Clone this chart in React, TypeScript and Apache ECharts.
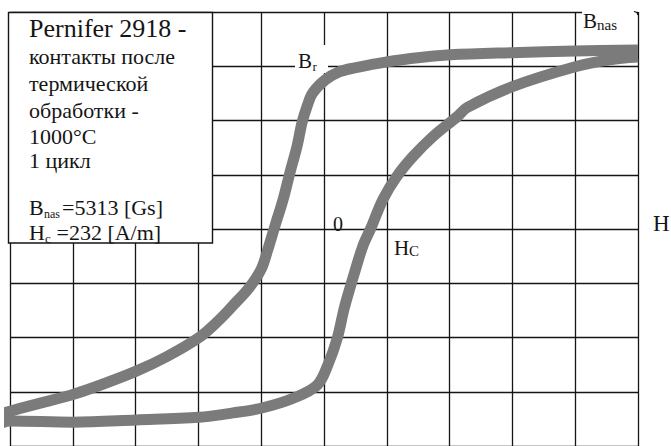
import React, { useEffect, useRef } from "react";
import * as echarts from "echarts";

// Hysteresis loop of Pernifer 2918, in grid units (H horizontal, B vertical)
// Descending branch, from positive saturation to negative saturation
const descendingH = [5.0, 4.0, 2.99, 2.01, 1.53, 1.0, 0.49, 0.25, 0.02, -0.18, -0.27, -0.35, -0.43, -0.54, -0.65, -0.78, -0.9, -1.0, -1.19, -1.45, -1.7, -1.99, -2.5, -2.99, -3.57, -4.0, -4.52, -5.0, -5.19];
const descendingB = [3.3, 3.28, 3.25, 3.21, 3.16, 3.08, 2.97, 2.9, 2.75, 2.51, 2.26, 1.96, 1.52, 1.05, 0.55, 0.06, -0.4, -0.74, -1.08, -1.41, -1.71, -2.0, -2.35, -2.62, -2.88, -3.05, -3.21, -3.36, -3.43];
// Ascending branch, from negative saturation back to positive saturation
const ascendingH = [-5.19, -5.0, -4.0, -2.99, -1.99, -1.45, -0.99, -0.49, -0.11, 0.06, 0.21, 0.32, 0.41, 0.49, 0.62, 0.74, 0.94, 1.16, 1.42, 1.74, 2.12, 2.28, 2.99, 4.0, 4.55, 5.0];
const ascendingB = [-3.6, -3.54, -3.56, -3.52, -3.47, -3.39, -3.3, -3.12, -2.88, -2.51, -2.02, -1.47, -1.1, -0.79, -0.31, 0, 0.55, 0.97, 1.34, 1.71, 2.07, 2.24, 2.62, 2.99, 3.12, 3.17];

// Grid extent in grid units
const hRange = [-5, 5];
const bRange = [-4, 4];

// Caption lines of the info box
const titleLine = "Pernifer 2918 -";
const captionLines = ["контакты после", "термической", "обработки -", "1000°C", "1 цикл"];
const bnasValue = "=5313 [Gs]";
const hcValue = " =232 [A/m]";

const SERIF = "Liberation Serif";
const INK = "#151515";
const CURVE = "#7b7b7b";

function txt(text: string, x: number, baseline: number, size: number, z = 11) {
  return {
    type: "text",
    x,
    y: baseline - 0.34 * size,
    z,
    style: {
      text,
      font: `${size}px ${SERIF}`,
      fontSize: size,
      fontFamily: SERIF,
      fill: INK,
      align: "left",
      verticalAlign: "middle",
    },
  };
}

function gap(x: number, y: number, w: number, h: number) {
  return {
    type: "rect",
    z: 1,
    shape: { x, y, width: w, height: h },
    style: { fill: "#ffffff" },
  };
}

export default function App() {
  const ref = useRef<HTMLDivElement>(null);

  useEffect(() => {
    if (!ref.current) return;
    const chart = echarts.init(ref.current, undefined, { renderer: "svg" });

    const descending = descendingH.map((h, i) => [h, descendingB[i]]);
    const ascending = ascendingH.map((h, i) => [h, ascendingB[i]]);

    const axisCommon = {
      type: "value",
      interval: 1,
      axisLine: { show: false },
      axisTick: { show: false },
      axisLabel: { show: false },
      splitLine: { show: true, lineStyle: { color: INK, width: 1.3 } },
    };

    const lineSeries = (data: number[][]) => ({
      type: "line",
      data,
      smooth: 0.35,
      showSymbol: false,
      clip: false,
      z: 2,
      lineStyle: { color: CURVE, width: 11, cap: "butt", join: "round" },
    });

    const captionStart = 29;
    const captionBaselines = [64, 90.5, 118, 144, 168];

    chart.setOption({
      animation: false,
      backgroundColor: "#ffffff",
      grid: { left: 10, top: 12, width: 628, height: 436 },
      xAxis: { ...axisCommon, min: hRange[0], max: hRange[1] },
      yAxis: { ...axisCommon, min: bRange[0], max: bRange[1] },
      series: [lineSeries(descending), lineSeries(ascending)],
      graphic: [
        // white gaps in the grid behind the axis labels
        gap(295, 45, 33, 28),
        gap(582, 5, 55, 11),
        // small hook on top of the right border
        {
          type: "polyline",
          z: 3,
          shape: { points: [[634, 11.5], [637, 12.5], [638, 15]] },
          style: { stroke: INK, lineWidth: 1.3, fill: null },
        },
        // info box
        {
          type: "rect",
          z: 10,
          shape: { x: 8.5, y: 12.5, width: 204, height: 230.5 },
          style: { fill: "#ffffff", stroke: INK, lineWidth: 1.4 },
        },
        txt(titleLine, captionStart, 37, 26),
        ...captionLines.map((line, i) => txt(line, captionStart, captionBaselines[i], 22)),
        txt("B", captionStart, 215, 22),
        txt("nas", 44, 218, 12),
        txt(bnasValue, 62, 215, 22),
        txt("H", captionStart, 240, 22),
        txt("c", 45, 243, 13),
        txt(hcValue, 51, 240, 22),
        // axis annotations
        txt("B", 298, 68, 21, 5),
        txt("r", 312.5, 71, 13, 5),
        txt("B", 583, 28, 21, 5),
        txt("nas", 597, 30, 15, 5),
        txt("0", 333, 231, 20, 5),
        txt("H", 394, 255, 21, 5),
        txt("C", 409, 256, 15, 5),
        txt("H", 653, 231, 23, 5),
      ],
    });

    return () => chart.dispose();
  }, []);

  return (
    <div
      ref={ref}
      style={{ position: "fixed", left: 0, top: 0, width: 671, height: 446, background: "#fff" }}
    />
  );
}
